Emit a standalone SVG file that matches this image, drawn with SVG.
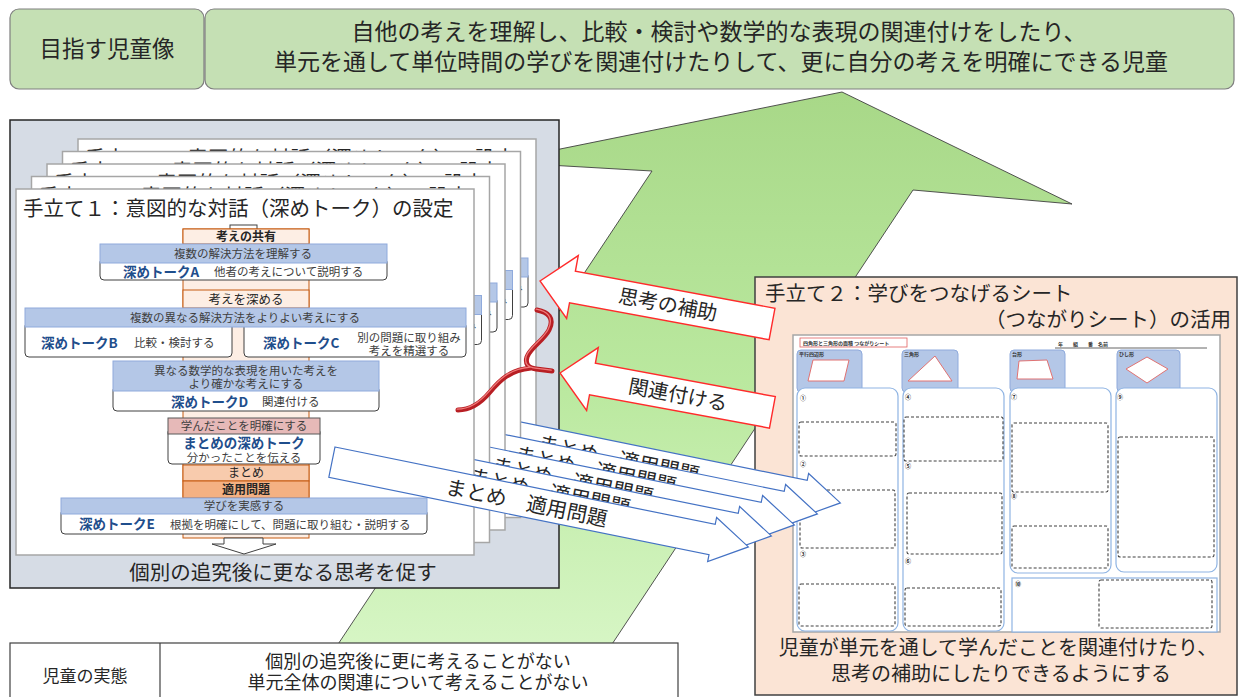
<svg xmlns="http://www.w3.org/2000/svg" xmlns:xlink="http://www.w3.org/1999/xlink" width="1238" height="697" viewBox="0 0 1238 697">
<style>
text{font-family:"Noto Sans CJK JP","Noto Sans",sans-serif;fill:#262626}
.s{font-size:11.5px;fill:#404040}
.dt{font-size:13.5px;font-weight:bold;fill:#1f4e8c}
.c{text-anchor:middle}
.bar{fill:#b4c7e7;stroke:#8faadc;stroke-width:1}
.wb{fill:#fff;stroke:#404040;stroke-width:1}
.col{fill:#fdeee4;stroke:#c55a11;stroke-width:1}
.pg{fill:#fff;stroke:#a6a6a6;stroke-width:1.5}
.ma{fill:#fff;stroke:#4472c4;stroke-width:1.2}
.ra{fill:#fff;stroke:#ff2b2b;stroke-width:1.4}
.tab{fill:#b4c7e7;stroke:#8faadc;stroke-width:1}
.shp{fill:#fff;stroke:#e07272;stroke-width:1}
.sc{fill:#fff;stroke:#8fb4e3;stroke-width:1.2}
.dsh{fill:#fff;stroke:#404040;stroke-width:1.1;stroke-dasharray:3 2}
.tiny{font-size:5px;font-weight:bold;fill:#333}
.num{font-size:6px;font-weight:bold;fill:#222}
</style>
<defs>
<linearGradient id="gg" x1="0" y1="92" x2="0" y2="697" gradientUnits="userSpaceOnUse">
<stop offset="0" stop-color="#a8d888"/>
<stop offset="0.5" stop-color="#bbe9a0"/>
<stop offset="1" stop-color="#dcf8cc"/>
</linearGradient>
</defs>

<!-- header -->
<g id="header-left">
<rect x="10" y="9" width="194" height="80" rx="9" fill="#c5e0b4" stroke="#7f7f7f" stroke-width="1.2"/>
<text x="107" y="57" class="c" font-size="22.5">目指す児童像</text>
</g>
<g id="header-right">
<rect x="205" y="9" width="1029" height="80" rx="9" fill="#c5e0b4" stroke="#7f7f7f" stroke-width="1.2"/>
<text class="c" font-size="23"><tspan x="719" y="40">自他の考えを理解し、比較・検討や数学的な表現の関連付けをしたり、</tspan><tspan x="721" y="70">単元を通して単位時間の学びを関連付けたりして、更に自分の考えを明確にできる児童</tspan></text>
</g>

<!-- big green arrow -->
<g id="growth-arrow">
<polygon points="842,92 1072,204 913,190 577,697 303,697 652,171 496,162" fill="url(#gg)" stroke="#404040" stroke-width="0.9"/>
</g>

<!-- bottom table -->
<g id="status-table">
<rect x="10" y="643" width="668" height="60" fill="#fff" stroke="#404040" stroke-width="1.2"/>
<line x1="160" y1="643" x2="160" y2="697" stroke="#404040" stroke-width="1.2"/>
<text x="85" y="682" class="c" font-size="17">児童の実態</text>
<text class="c" font-size="18"><tspan x="418" y="668">個別の追究後に更に考えることがない</tspan><tspan x="418" y="689">単元全体の関連について考えることがない</tspan></text>
</g>

<!-- right panel -->
<g id="panel-right">
<rect x="755" y="277" width="482" height="418" fill="#fbe4d5" stroke="#404040" stroke-width="1.5"/>
<text font-size="20.5"><tspan x="765" y="301">手立て２：学びをつなげるシート</tspan><tspan x="1231" y="327" text-anchor="end">（つながりシート）の活用</tspan></text>
<g id="sheet">
<rect x="793" y="335" width="427" height="297" fill="#fff" stroke="#a6a6a6" stroke-width="1.5"/>
<rect x="800" y="338" width="107" height="9" fill="#fff" stroke="#e06060" stroke-width="0.8"/>
<text x="803" y="345" class="tiny">四角形と三角形の面積 つながりシート</text>
<text x="1058" y="346" class="tiny">年　　組　　番　名前</text>
<line x1="1055" y1="348" x2="1207" y2="348" stroke="#404040" stroke-width="0.8"/>
<rect x="797" y="350" width="65" height="42" rx="4" class="tab"/>
<text x="799" y="356" class="tiny">平行四辺形</text>
<polygon points="813,360 849,360 844,381 808,381" class="shp"/>
<rect x="902" y="350" width="56" height="42" rx="4" class="tab"/>
<text x="904" y="356" class="tiny">三角形</text>
<polygon points="908,381 935,356 952,381" class="shp"/>
<rect x="1010" y="350" width="55" height="42" rx="4" class="tab"/>
<text x="1012" y="356" class="tiny">台形</text>
<polygon points="1019,361 1047,360 1053,379 1017,379" class="shp"/>
<rect x="1117" y="350" width="63" height="42" rx="4" class="tab"/>
<text x="1119" y="356" class="tiny">ひし形</text>
<polygon points="1147,357 1168,369 1147,383 1126,369" class="shp"/>
<rect x="797" y="388" width="101" height="243" rx="8" class="sc"/>
<rect x="903" y="388" width="101" height="243" rx="8" class="sc"/>
<rect x="1010" y="388" width="101" height="185" rx="8" class="sc"/>
<rect x="1116" y="388" width="101" height="184" rx="8" class="sc"/>
<rect x="1012" y="578" width="205" height="54" class="sc"/>
<rect x="799" y="422" width="97" height="34" rx="2" class="dsh"/>
<rect x="800" y="490" width="95" height="58" rx="2" class="dsh"/>
<rect x="799" y="584" width="96" height="42" rx="2" class="dsh"/>
<rect x="904" y="417" width="99" height="44" rx="2" class="dsh"/>
<rect x="907" y="493" width="95" height="61" rx="2" class="dsh"/>
<rect x="905" y="588" width="96" height="38" rx="2" class="dsh"/>
<rect x="1012" y="423" width="96" height="69" rx="2" class="dsh"/>
<rect x="1012" y="526" width="96" height="42" rx="2" class="dsh"/>
<rect x="1118" y="437" width="96" height="120" rx="2" class="dsh"/>
<rect x="1099" y="580" width="113" height="48" rx="2" class="dsh"/>
<text x="800" y="400" class="num">①</text>
<text x="800" y="466" class="num">②</text>
<text x="800" y="556" class="num">③</text>
<text x="905" y="399" class="num">④</text>
<text x="905" y="468" class="num">⑤</text>
<text x="905" y="563" class="num">⑥</text>
<text x="1011" y="399" class="num">⑦</text>
<text x="1011" y="498" class="num">⑧</text>
<text x="1117" y="399" class="num">⑨</text>
<text x="1015" y="586" class="num">⑩</text>
</g>
<text class="c" font-size="20"><tspan x="998" y="655">児童が単元を通して学んだことを関連付けたり、</tspan><tspan x="1001" y="681">思考の補助にしたりできるようにする</tspan></text>
</g>

<!-- left panel -->
<g id="panel-left">
<rect x="10" y="120" width="549" height="468" fill="#d6dce5" stroke="#262626" stroke-width="1.5"/>
<text x="283" y="580" class="c" font-size="20.5">個別の追究後に更なる思考を促す</text>
</g>

<!-- stacked pages (back to front) -->
<g id="page-stack">
<use xlink:href="#page-front" href="#page-front" transform="translate(62,-50)"/>
<use xlink:href="#arrow-front" href="#arrow-front" transform="translate(92,-44)"/>
<use xlink:href="#page-front" href="#page-front" transform="translate(46.5,-37.5)"/>
<use xlink:href="#arrow-front" href="#arrow-front" transform="translate(69,-33)"/>
<use xlink:href="#page-front" href="#page-front" transform="translate(31,-25)"/>
<use xlink:href="#arrow-front" href="#arrow-front" transform="translate(46,-22)"/>
<use xlink:href="#page-front" href="#page-front" transform="translate(15.5,-12.5)"/>
<use xlink:href="#arrow-front" href="#arrow-front" transform="translate(23,-11)"/>

<g id="page-front">
<rect x="16" y="189" width="458" height="366" class="pg"/>
<text x="23" y="216" font-size="20.5">手立て１：意図的な対話（深めトーク）の設定</text>
<rect x="230" y="225" width="27" height="5" fill="#fff" stroke="#404040" stroke-width="1"/>
<rect x="183" y="229" width="126" height="309" class="col"/>
<rect x="183" y="229" width="126" height="15" class="col"/>
<text x="246" y="241" class="c" font-size="12" font-weight="bold" fill="#333">考えの共有</text>
<rect x="100" y="258" width="287" height="22" rx="4" class="wb"/>
<rect x="100" y="244" width="287" height="19" class="bar"/>
<text x="243" y="258" class="s c">複数の解決方法を理解する</text>
<text x="123" y="277" class="dt">深めトークA</text>
<text x="214" y="276" class="s">他者の考えについて説明する</text>
<rect x="183" y="290" width="126" height="18" class="col"/>
<text x="246" y="304" class="c" font-size="12.5" fill="#333">考えを深める</text>
<rect x="25" y="322" width="207" height="35" rx="4" class="wb"/>
<rect x="244" y="322" width="222" height="35" rx="4" class="wb"/>
<rect x="25" y="308" width="441" height="19" class="bar"/>
<text x="245" y="322" class="s c">複数の異なる解決方法をよりよい考えにする</text>
<text x="41" y="348" class="dt">深めトークB</text>
<text x="134" y="347" class="s">比較・検討する</text>
<text x="263" y="348" class="dt">深めトークC</text>
<text class="s c"><tspan x="409" y="342">別の問題に取り組み</tspan><tspan x="409" y="355">考えを精選する</tspan></text>
<rect x="113" y="386" width="266" height="25" rx="4" class="wb"/>
<rect x="113" y="361" width="266" height="30" class="bar"/>
<text class="s c"><tspan x="246" y="375">異なる数学的な表現を用いた考えを</tspan><tspan x="246" y="388">より確かな考えにする</tspan></text>
<text x="171" y="407" class="dt">深めトークD</text>
<text x="262" y="406" class="s">関連付ける</text>
<rect x="168" y="428" width="152" height="36" rx="4" class="wb"/>
<rect x="168" y="418" width="152" height="16" fill="#e6b9b8" stroke="#595959" stroke-width="1"/>
<text class="s c"><tspan x="244" y="430">学んだことを明確にする</tspan><tspan x="244" y="448" class="dt">まとめの深めトーク</tspan><tspan x="244" y="462">分かったことを伝える</tspan></text>
<rect x="183" y="465" width="126" height="16" fill="#f8cbad" stroke="#c55a11" stroke-width="1"/>
<text x="246" y="477" class="c" font-size="12" fill="#333">まとめ</text>
<rect x="183" y="481" width="126" height="17" fill="#f4b183" stroke="#c55a11" stroke-width="1"/>
<text x="246" y="494" class="c" font-size="12" font-weight="bold" fill="#333">適用問題</text>
<rect x="61" y="509" width="366" height="25" rx="4" class="wb"/>
<rect x="61" y="498" width="366" height="16" class="bar"/>
<text x="244" y="510" class="s c">学びを実感する</text>
<text x="79" y="529" class="dt">深めトークE</text>
<text x="170" y="529" class="s">根拠を明確にして、問題に取り組む・説明する</text>
<polygon points="224,538 263,538 263,544 276,544 244,554 212,544 224,544" fill="#fff" stroke="#404040" stroke-width="1"/>
</g>

<g id="arrow-front" transform="translate(335,447) rotate(11.5)">
<path d="M0,0 H388 V-7 L425,15.5 L388,38 V31 H0 Z" class="ma"/>
<text x="117" y="24" font-size="20.5">まとめ　適用問題</text>
</g>
</g>

<!-- connectors (red arrows and brace) -->
<g id="connectors">
<g id="arrow-shikou" transform="translate(540,281) rotate(10.5)">
<path d="M0,0 L33,-32 V-16 H236 V16 H33 V32 Z" class="ra"/>
<text x="130" y="7" class="c" font-size="20">思考の補助</text>
</g>
<g id="arrow-kanren" transform="translate(560,373) rotate(10.5)">
<path d="M0,0 L33,-32 V-16 H216 V16 H33 V32 Z" class="ra"/>
<text x="120" y="7" class="c" font-size="20">関連付ける</text>
</g>
<g id="brace">
<path d="M537,310 C548,312 555,318 549,330 C544,340 530,348 527,357 C525,364 528,368 536,369 L552,371 M531,368 C510,370 500,380 490,392 C480,404 470,410 458,410" fill="none" stroke="#b81f24" stroke-width="5" stroke-linecap="round" stroke-linejoin="round"/>
<path d="M537,310 C548,312 555,318 549,330 C544,340 530,348 527,357 C525,364 528,368 536,369 L552,371 M531,368 C510,370 500,380 490,392 C480,404 470,410 458,410" fill="none" stroke="#f07a7a" stroke-width="1.3" stroke-linecap="round" stroke-linejoin="round" transform="translate(-0.8,-0.8)"/>
</g>
</g>
</svg>
